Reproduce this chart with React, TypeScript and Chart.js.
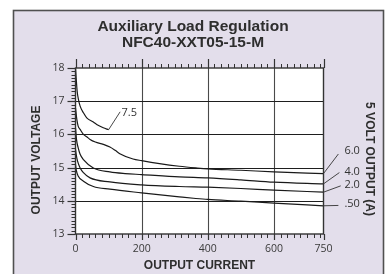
import React, { useEffect, useRef } from "react";
import { Chart, registerables } from "chart.js";

Chart.register(...registerables);

// ---- text ----
const titleLines = ["Auxiliary Load Regulation", "NFC40-XXT05-15-M"];
const xAxisTitle = "OUTPUT CURRENT";
const yAxisTitle = "OUTPUT VOLTAGE";
const y2AxisTitle = "5 VOLT OUTPUT (A)";

// ---- axes ----
const xTickValues = [0, 200, 400, 600, 750];
const yTickValues = [13, 14, 15, 16, 17, 18];

// ---- series (x = output current, y = output voltage) ----
const seriesNames = ["7.5", "6.0", "4.0", "2.0", ".50"];

const x7_5 = [0, 2, 5, 9, 14, 24, 34, 54, 64, 84, 100];
const y7_5 = [18.0, 17.7, 17.3, 17.05, 16.85, 16.65, 16.5, 16.37, 16.3, 16.2, 16.14];

const x6_0 = [0, 4, 8, 14, 24, 34, 44, 60, 84, 104, 120, 134, 174, 200, 254, 314, 364, 400, 500, 600, 750];
const y6_0 = [16.8, 16.45, 16.25, 16.15, 16.0, 15.93, 15.85, 15.77, 15.7, 15.62, 15.52, 15.42, 15.26, 15.21, 15.12, 15.04, 14.99, 14.96, 14.92, 14.87, 14.82];

const x4_0 = [0, 3, 8, 14, 24, 54, 104, 150, 200, 314, 400, 500, 600, 750];
const y4_0 = [16.2, 15.85, 15.6, 15.4, 15.24, 14.99, 14.87, 14.82, 14.79, 14.72, 14.69, 14.63, 14.56, 14.51];

const x2_0 = [0, 2, 6, 14, 24, 44, 104, 200, 314, 400, 500, 600, 750];
const y2_0 = [15.55, 15.4, 15.2, 14.99, 14.85, 14.69, 14.57, 14.48, 14.43, 14.41, 14.37, 14.32, 14.26];

const x0_5 = [0, 2, 8, 24, 54, 104, 200, 314, 364, 400, 500, 600, 750];
const y0_5 = [15.1, 14.94, 14.75, 14.59, 14.43, 14.35, 14.24, 14.12, 14.07, 14.04, 13.99, 13.93, 13.85];

const seriesX = [x7_5, x6_0, x4_0, x2_0, x0_5];
const seriesY = [y7_5, y6_0, y4_0, y2_0, y0_5];

// ---- curve labels and their leader lines (data units) ----
const leaderEndX = [135, 795, 798, 802, 795];
const leaderEndY = [16.68, 15.41, 14.85, 14.45, 13.86];
const labelX = [139, 860, 860, 860, 860];
const labelY = [16.64, 15.5, 14.87, 14.48, 13.9];
const labelAlign = ["left", "right", "right", "right", "right"];

const W = 388;
const H = 274;

const decorPlugin = {
  id: "decor",
  beforeDraw(chart: any) {
    const ctx = chart.ctx;
    ctx.save();
    ctx.fillStyle = "#ffffff";
    ctx.fillRect(0, 0, W, H);
    ctx.fillStyle = "#e3deeb";
    ctx.fillRect(13, 10, 370, 280);
    ctx.strokeStyle = "#505050";
    ctx.lineWidth = 1.6;
    ctx.strokeRect(13.5, 10.5, 370, 280);
    ctx.restore();
  },
  beforeDatasetsDraw(chart: any) {
    const ctx = chart.ctx;
    const a = chart.chartArea;
    const xs = chart.scales.x;
    const ys = chart.scales.y;
    ctx.save();
    ctx.fillStyle = "#ffffff";
    ctx.fillRect(a.left, a.top, a.right - a.left, a.bottom - a.top);
    // vertical grid
    ctx.strokeStyle = "#4a4a4a";
    ctx.lineWidth = 1.1;
    xTickValues.forEach((v) => {
      if (v === xTickValues[0] || v === xTickValues[xTickValues.length - 1]) return;
      const px = Math.round(xs.getPixelForValue(v)) + 0.5;
      ctx.beginPath();
      ctx.moveTo(px, a.top);
      ctx.lineTo(px, a.bottom);
      ctx.stroke();
    });
    // horizontal grid
    ctx.strokeStyle = "#1e1e1e";
    ctx.lineWidth = 1.2;
    yTickValues.forEach((v) => {
      if (v === yTickValues[0] || v === yTickValues[yTickValues.length - 1]) return;
      const py = Math.round(ys.getPixelForValue(v)) + 0.5;
      ctx.beginPath();
      ctx.moveTo(a.left, py);
      ctx.lineTo(a.right, py);
      ctx.stroke();
    });
    ctx.restore();
  },
  afterDatasetsDraw(chart: any) {
    const ctx = chart.ctx;
    const a = chart.chartArea;
    const xs = chart.scales.x;
    const ys = chart.scales.y;
    ctx.save();
    // frame
    ctx.strokeStyle = "#333333";
    ctx.lineWidth = 1.4;
    ctx.strokeRect(a.left, a.top, a.right - a.left, a.bottom - a.top);

    // minor ticks x (every 20)
    ctx.lineWidth = 1;
    ctx.strokeStyle = "#333333";
    const xMin = xTickValues[0];
    const xMax = xTickValues[xTickValues.length - 1];
    for (let v = xMin + 20; v < xMax; v += 20) {
      const px = Math.round(xs.getPixelForValue(v)) + 0.5;
      ctx.beginPath();
      ctx.moveTo(px, a.top);
      ctx.lineTo(px, a.top - 4);
      ctx.moveTo(px, a.bottom);
      ctx.lineTo(px, a.bottom + 4);
      ctx.stroke();
    }
    // major ticks x
    ctx.lineWidth = 1.2;
    xTickValues.forEach((v) => {
      const px = Math.round(xs.getPixelForValue(v)) + 0.5;
      ctx.beginPath();
      ctx.moveTo(px, a.top);
      ctx.lineTo(px, a.top - 9);
      ctx.moveTo(px, a.bottom);
      ctx.lineTo(px, a.bottom + 6);
      ctx.stroke();
    });
    // minor ticks y (every 0.1)
    ctx.lineWidth = 1;
    const yMin = yTickValues[0];
    const yMax = yTickValues[yTickValues.length - 1];
    for (let i = 1; i < (yMax - yMin) * 10; i++) {
      const v = yMin + i / 10;
      const py = Math.round(ys.getPixelForValue(v)) + 0.5;
      ctx.beginPath();
      ctx.moveTo(a.left, py);
      ctx.lineTo(a.left - 4, py);
      ctx.stroke();
    }
    ctx.lineWidth = 1.2;
    yTickValues.forEach((v) => {
      const py = Math.round(ys.getPixelForValue(v)) + 0.5;
      ctx.beginPath();
      ctx.moveTo(a.left, py);
      ctx.lineTo(a.left - 8, py);
      ctx.stroke();
    });

    // tick labels
    ctx.fillStyle = "#3a3a3a";
    ctx.font = "10.5px 'Open Sans', sans-serif";
    ctx.textAlign = "center";
    ctx.textBaseline = "middle";
    xTickValues.forEach((v) => {
      ctx.fillText(String(v), xs.getPixelForValue(v), a.bottom + 15);
    });
    ctx.textAlign = "right";
    yTickValues.forEach((v) => {
      ctx.fillText(String(v), a.left - 11, ys.getPixelForValue(v));
    });

    // curve labels
    ctx.font = "11px 'Open Sans', sans-serif";
    ctx.fillStyle = "#333333";
    seriesNames.forEach((n, i) => {
      ctx.textAlign = labelAlign[i] as CanvasTextAlign;
      ctx.fillText(n, xs.getPixelForValue(labelX[i]), ys.getPixelForValue(labelY[i]));
    });

    // titles
    ctx.fillStyle = "#2e2e2e";
    ctx.textAlign = "center";
    ctx.font = "bold 15.5px 'Liberation Sans', Arial, sans-serif";
    ctx.fillText(titleLines[0], 193, 27);
    ctx.fillText(titleLines[1], 193, 43);

    ctx.font = "bold 12px 'Liberation Sans', Arial, sans-serif";
    ctx.fillText(xAxisTitle, (a.left + a.right) / 2, 266);

    ctx.save();
    ctx.translate(37, 160);
    ctx.rotate(-Math.PI / 2);
    ctx.fillText(yAxisTitle, 0, 0);
    ctx.restore();

    ctx.save();
    ctx.translate(369, 159);
    ctx.rotate(Math.PI / 2);
    ctx.fillText(y2AxisTitle, 0, 0);
    ctx.restore();

    ctx.restore();
  },
};

export default function App() {
  const ref = useRef<HTMLCanvasElement | null>(null);

  useEffect(() => {
    if (!ref.current) return;
    const curveSets = seriesNames.map((n, i) => ({
      label: n,
      data: seriesX[i].map((x, j) => ({ x, y: seriesY[i][j] })),
      borderColor: "#1a1a1a",
      borderWidth: 1.2,
      pointRadius: 0,
      fill: false,
      cubicInterpolationMode: "monotone" as const,
    }));
    const leaderSets = seriesNames.map((n, i) => {
      const xs = seriesX[i];
      const ysr = seriesY[i];
      return {
        label: n + " leader",
        data: [
          { x: xs[xs.length - 1], y: ysr[ysr.length - 1] },
          { x: leaderEndX[i], y: leaderEndY[i] },
        ],
        borderColor: "#333333",
        borderWidth: 0.9,
        pointRadius: 0,
        fill: false,
        tension: 0,
        clip: false as any,
      };
    });

    const chart = new Chart(ref.current, {
      type: "line",
      data: { datasets: [...curveSets, ...leaderSets] as any },
      options: {
        responsive: false,
        animation: false,
        devicePixelRatio: 1,
        layout: { padding: { left: 75.5, right: W - 323.5, top: 68, bottom: H - 234 } },
        plugins: { legend: { display: false }, tooltip: { enabled: false }, title: { display: false } },
        scales: {
          x: { type: "linear", min: xTickValues[0], max: xTickValues[xTickValues.length - 1], display: false },
          y: { type: "linear", min: yTickValues[0], max: yTickValues[yTickValues.length - 1], display: false },
        },
      },
      plugins: [decorPlugin],
    });
    return () => chart.destroy();
  }, []);

  return (
    <div style={{ position: "fixed", left: 0, top: 0, width: W, height: H, background: "#fff" }}>
      <canvas ref={ref} width={W} height={H} style={{ width: W, height: H, display: "block" }} />
    </div>
  );
}
